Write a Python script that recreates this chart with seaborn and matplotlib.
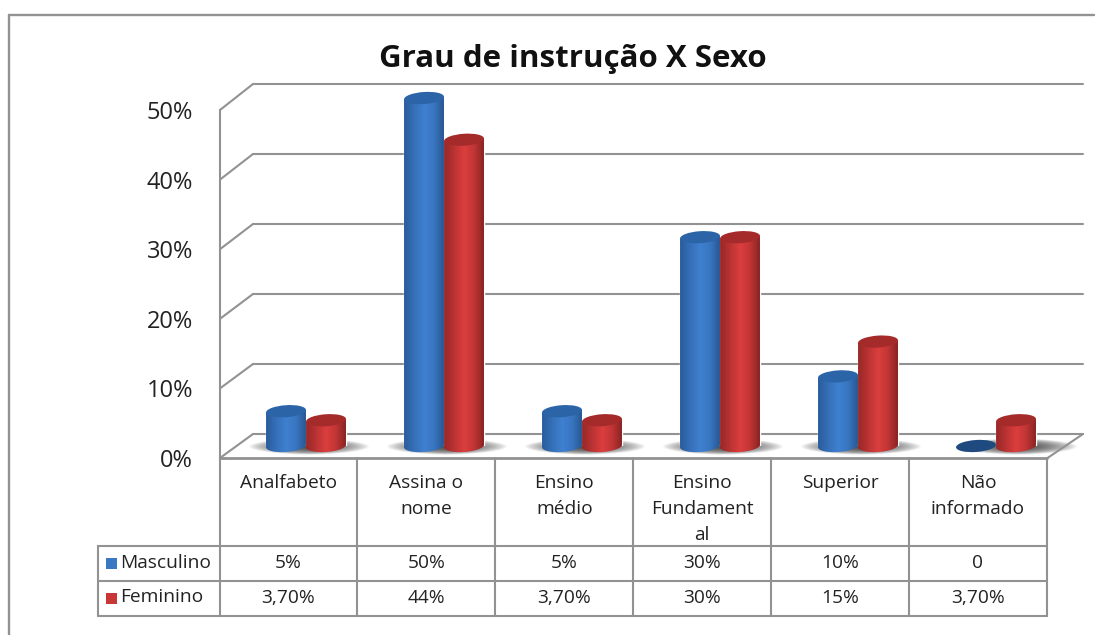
"""
Grau de instrucao X Sexo: cylinders on a fake 3D wall with a data table below
"""

import numpy as np
import pandas as pd
import seaborn as sns
import matplotlib.pyplot as plt
from matplotlib.colors import LinearSegmentedColormap
from matplotlib.lines import Line2D
from matplotlib.patches import Ellipse, Rectangle
from matplotlib.path import Path
from matplotlib.transforms import Affine2D, IdentityTransform

categorias = ["Analfabeto", "Assina o\nnome", "Ensino\nmédio",
              "Ensino\nFundament\nal", "Superior", "Não\ninformado"]
series = ["Masculino", "Feminino"]
masculino = [5, 50, 5, 30, 10, 0]
feminino = [3.7, 44, 3.7, 30, 15, 3.7]
texto_masculino = ["5%", "50%", "5%", "30%", "10%", "0"]
texto_feminino = ["3,70%", "44%", "3,70%", "30%", "15%", "3,70%"]
eixo_y = [0, 10, 20, 30, 40, 50]

W, H = 1095, 635
LINE = "#929292"
TEXT = "#222222"

sns.set_theme(style="white")
plt.rcParams["font.family"] = ["Open Sans", "DejaVu Sans"]

fig = plt.figure(figsize=(W / 100, H / 100), dpi=100, facecolor="white")
px = Affine2D().scale(1, -1).translate(0, H)  # top-left pixel coords


def add_axes(left, top, right, bottom):
    a = fig.add_axes([left / W, 1 - bottom / H, (right - left) / W, (bottom - top) / H])
    a.set_facecolor("none")
    a.set_ylim(0, 50)
    a.set_yticks(eixo_y)
    return a


def line(xs, ys, lw=1.5):
    fig.add_artist(Line2D(xs, ys, color=LINE, lw=lw, transform=px, solid_capstyle="round"))


# back wall
wall = add_axes(253, 84, 1083, 434)
wall.set_xticks([])
wall.set_yticklabels([])
wall.grid(axis="y", color=LINE, lw=1.5)
wall.tick_params(left=False)
for g in wall.get_ygridlines():
    g.set_clip_on(False)
sns.despine(ax=wall, left=True, bottom=True)

# front plane only carries the y axis
front = add_axes(220, 110, 1048, 458)
front.set_xticks([])
front.set_yticklabels([f"{v}%" for v in eixo_y], fontsize=17, color=TEXT)
front.tick_params(axis="y", left=False, pad=13.5)
sns.despine(ax=front, bottom=True)
front.spines["left"].set_color(LINE)
front.spines["left"].set_linewidth(1.5)

# bars
df = pd.DataFrame({
    "categoria": categorias * 2,
    "sexo": [series[0]] * 6 + [series[1]] * 6,
    "valor": masculino + feminino,
})
ax = add_axes(237, 98, 1065, 446)
sns.barplot(data=df, x="categoria", y="valor", hue="sexo", palette=["#3a78c4", "#c93636"],
            width=0.58, gap=0, legend=False, saturation=1, ax=ax)
ax.set(xlabel="", ylabel="", xticks=[], yticks=[])
ax.set_xlim(-0.5, 5.5)
ax.set_ylim(0, 50)
ax.set_autoscale_on(False)
sns.despine(ax=ax, left=True, bottom=True)

cmaps = [
    LinearSegmentedColormap.from_list("azul", ["#2a5c9c", "#3570b8", "#3f80d0", "#3875bf", "#27548e"]),
    LinearSegmentedColormap.from_list("verm", ["#982828", "#bb3333", "#dc3e3e", "#bf3434", "#862222"]),
]
caps = ["#2c64a8", "#a52b2b"]
empty_cap = "#1f4a80"
grad = np.linspace(0, 1, 64).reshape(1, -1)
tilt = np.deg2rad(4)
rx, ry = 20, 6


def arc(cx, cy, t):
    ex, ey = rx * np.cos(t), ry * np.sin(t)
    return np.column_stack([cx + ex * np.cos(tilt) - ey * np.sin(tilt),
                            cy + ex * np.sin(tilt) + ey * np.cos(tilt)])


# soft floor shadows, one per group
sx = np.linspace(-1, 1, 80)
sy = np.linspace(-1, 1, 30)
shade = np.zeros((30, 80, 4))
shade[..., :3] = 0.32
shade[..., 3] = np.clip(1 - np.abs(sx[None, :]) ** 1.6 - sy[:, None] ** 2, 0, 1) ** 0.8
for i in range(len(categorias)):
    shx = i + 0.02 if masculino[i] else i + 0.15
    im = ax.imshow(shade, extent=(shx - 0.44, shx + 0.44, -1.3, 1.1), aspect="auto",
                   zorder=0.5, interpolation="bilinear")
    im.set_clip_on(False)

for n, bar in enumerate(ax.patches):
    s = n // 6
    val = bar.get_height()
    x0, x1 = bar.get_x(), bar.get_x() + bar.get_width()
    xc = (x0 + x1) / 2
    cx, cy = ax.transData.transform((xc, 0))
    tx, ty = ax.transData.transform((xc, val))
    if val > 0:
        low = arc(cx, cy, np.linspace(np.pi, 2 * np.pi, 40))
        verts = np.vstack([low, [tx + low[-1, 0] - cx, ty + low[-1, 1] - cy],
                           [tx + low[0, 0] - cx, ty + low[0, 1] - cy], low[0]])
        im = ax.imshow(grad, cmap=cmaps[s], extent=(x0, x1, -1.5, val + 1), aspect="auto",
                       zorder=2, interpolation="bilinear")
        im.set_clip_path(Path(verts), IdentityTransform())
        im.set_clip_box(fig.bbox)
    colour = caps[s] if val > 0 else empty_cap
    ax.add_patch(Ellipse((tx, ty), 2 * rx, 2 * ry, angle=4, facecolor=colour, edgecolor="none",
                         transform=IdentityTransform(), clip_on=False, zorder=3))
ax.set_xlim(-0.5, 5.5)
ax.set_ylim(0, 50)

# depth lines of the wall and the floor
for v in eixo_y:
    xa, ya = front.transData.transform((0, v))
    xb, yb = wall.transData.transform((0, v))
    line([220, xb - 0], [H - ya, H - yb])
line([1047.5, 1083], [458, 434])

# data table
col_x = [219.5 + 137.9 * i for i in range(7)]
line([220, 1047], [458, 458], lw=2)
line([98, 1047], [545.5, 545.5])
line([98, 1047], [580.5, 580.5])
line([98, 1047], [615.5, 615.5])
line([98, 98], [545.5, 615.5])
for x in col_x:
    line([x, x], [458, 615.5])

for i, cat in enumerate(categorias):
    xc = (col_x[i] + col_x[i + 1]) / 2
    for k, part in enumerate(cat.split("\n")):
        fig.text(xc / W, 1 - (482.5 + 26.5 * k) / H, part, ha="center", va="center",
                 fontsize=13.8, color=TEXT)
    fig.text(xc / W, 1 - 563 / H, texto_masculino[i], ha="center", va="center", fontsize=13.8, color=TEXT)
    fig.text(xc / W, 1 - 598 / H, texto_feminino[i], ha="center", va="center", fontsize=13.8, color=TEXT)

for name, y, c in zip(series, [563, 598], ["#3a78c4", "#c93636"]):
    fig.add_artist(Rectangle((106, y - 5.5), 11, 11, facecolor=c, edgecolor="none", transform=px))
    fig.text(120 / W, 1 - (y - 0.5) / H, name, ha="left", va="center", fontsize=13.8, color=TEXT)

# outer frame, right and bottom sides are cut off
line([9, 9], [15, H + 5], lw=1.7)
line([9, 1094], [15, 15], lw=1.7)

fig.text(573 / W, 1 - 59 / H, "Grau de instrução X Sexo", ha="center", va="center",
         fontsize=22.5, fontweight="bold", color="#111111")

fig.savefig("out.png", dpi=100)
